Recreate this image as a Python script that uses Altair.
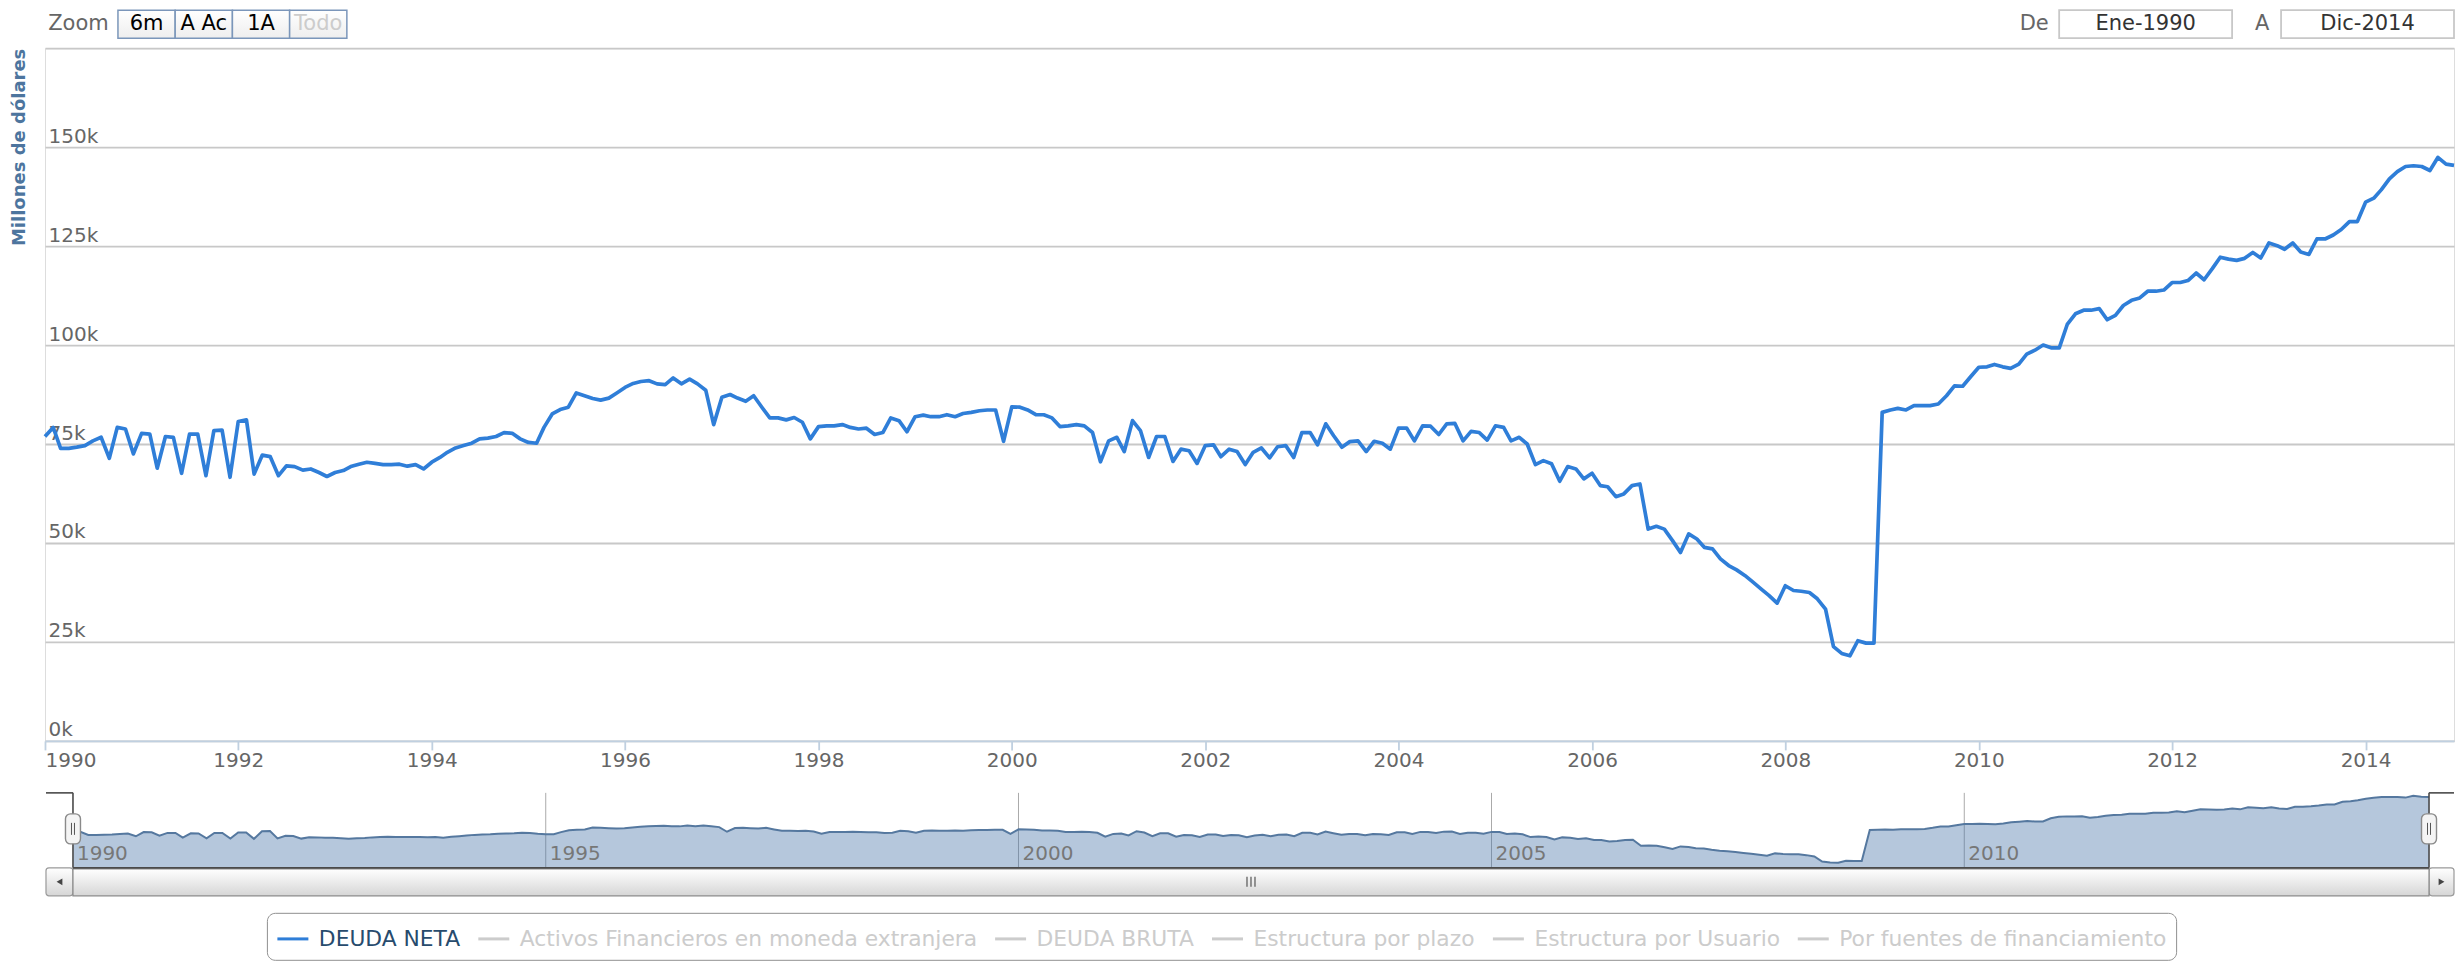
import altair as alt
import pandas as pd

# ---------------- data ----------------
# DEUDA NETA, monthly from Jan-1990 to Dec-2014, thousands of millions of dollars (k)
deuda_1990 = [76.9, 79.2, 73.9, 73.9, 74.2, 74.6, 75.8, 76.7, 71.4, 79.2, 78.8, 72.5]
deuda_1991 = [77.7, 77.5, 68.9, 76.9, 76.7, 67.6, 77.5, 77.5, 67.0, 78.4, 78.5, 66.6]
deuda_1992 = [80.7, 81.1, 67.4, 72.2, 71.8, 67.0, 69.5, 69.3, 68.4, 68.7, 67.8, 66.8]
deuda_1993 = [67.8, 68.3, 69.3, 69.9, 70.4, 70.1, 69.8, 69.8, 69.9, 69.4, 69.8, 68.7]
deuda_1994 = [70.4, 71.6, 72.9, 74.0, 74.6, 75.2, 76.3, 76.5, 76.9, 77.9, 77.7, 76.3]
deuda_1995 = [75.4, 75.2, 79.2, 82.6, 83.7, 84.3, 87.9, 87.2, 86.5, 86.1, 86.6, 87.9]
deuda_1996 = [89.3, 90.3, 90.8, 91.0, 90.2, 90.0, 91.7, 90.2, 91.4, 90.2, 88.6, 79.9]
deuda_1997 = [86.8, 87.5, 86.6, 85.8, 87.2, 84.3, 81.6, 81.6, 81.1, 81.7, 80.5, 76.3]
deuda_1998 = [79.4, 79.6, 79.6, 79.9, 79.2, 78.8, 79.0, 77.4, 77.9, 81.6, 80.9, 78.1]
deuda_1999 = [81.9, 82.3, 81.9, 81.9, 82.4, 81.9, 82.7, 83.0, 83.4, 83.6, 83.6, 75.7]
deuda_2000 = [84.4, 84.3, 83.6, 82.4, 82.4, 81.6, 79.4, 79.6, 79.9, 79.6, 77.9, 70.5]
deuda_2001 = [75.8, 76.7, 73.1, 80.9, 78.4, 71.6, 76.9, 76.9, 70.6, 73.7, 73.3, 70.1]
deuda_2002 = [74.6, 74.8, 71.8, 73.7, 73.1, 69.8, 72.9, 74.0, 71.5, 74.3, 74.6, 71.6]
deuda_2003 = [77.9, 77.9, 74.8, 80.1, 77.1, 74.2, 75.6, 75.8, 73.1, 75.7, 75.2, 73.7]
deuda_2004 = [79.0, 79.0, 75.8, 79.6, 79.5, 77.4, 80.1, 80.2, 75.8, 78.2, 77.9, 76.0]
deuda_2005 = [79.6, 79.2, 75.8, 76.7, 75.0, 69.8, 70.8, 70.0, 65.6, 69.3, 68.7, 66.2]
deuda_2006 = [67.6, 64.5, 64.2, 61.7, 62.4, 64.5, 64.9, 53.5, 54.2, 53.5, 50.6, 47.6]
deuda_2007 = [52.3, 51.0, 48.9, 48.5, 46.0, 44.3, 43.2, 41.8, 40.1, 38.4, 36.7, 34.8]
deuda_2008 = [39.2, 38.0, 37.8, 37.5, 35.9, 33.3, 23.8, 22.1, 21.5, 25.3, 24.7, 24.7]
deuda_2009 = [83.0, 83.6, 84.0, 83.6, 84.7, 84.7, 84.7, 85.1, 87.2, 89.7, 89.6, 92.0]
deuda_2010 = [94.4, 94.5, 95.1, 94.5, 94.1, 95.2, 97.7, 98.7, 100.0, 99.3, 99.3, 105.2]
deuda_2011 = [107.9, 108.8, 108.8, 109.2, 106.4, 107.5, 110.0, 111.3, 111.9, 113.6, 113.6, 113.9]
deuda_2012 = [115.8, 115.8, 116.3, 118.2, 116.5, 119.3, 122.2, 121.7, 121.4, 121.9, 123.4, 122.0]
deuda_2013 = [125.8, 125.1, 124.2, 125.8, 123.5, 122.9, 126.8, 126.8, 127.8, 129.2, 131.2, 131.2]
deuda_2014 = [136.1, 137.1, 139.2, 142.0, 143.8, 145.1, 145.3, 145.1, 144.1, 147.4, 145.7, 145.4]

series_names = ["DEUDA NETA", "Activos Financieros en moneda extranjera", "DEUDA BRUTA",
                "Estructura por plazo", "Estructura por Usuario", "Por fuentes de financiamiento"]
series_colors = ["#2f7ed8", "#cccccc", "#cccccc", "#cccccc", "#cccccc", "#cccccc"]

y_ticks_k = [0, 25, 50, 75, 100, 125, 150, 175]
x_tick_years = list(range(1990, 2015, 2))
nav_label_years = [1990, 1995, 2000, 2005, 2010]
nav_grid_years = [1995, 2000, 2005, 2010]
zoom_buttons = ["6m", "A Ac", "1A", "Todo"]
range_from = "Ene-1990"
range_to = "Dic-2014"
y_title = "Millones de dólares"

# ---------------- tables ----------------
valores_k = (deuda_1990 + deuda_1991 + deuda_1992 + deuda_1993 + deuda_1994 + deuda_1995 +
             deuda_1996 + deuda_1997 + deuda_1998 + deuda_1999 + deuda_2000 + deuda_2001 +
             deuda_2002 + deuda_2003 + deuda_2004 + deuda_2005 + deuda_2006 + deuda_2007 +
             deuda_2008 + deuda_2009 + deuda_2010 + deuda_2011 + deuda_2012 + deuda_2013 + deuda_2014)
fechas = pd.date_range("1990-01-01", periods=len(valores_k), freq="MS")
df = pd.DataFrame({
    "fecha": [d.strftime("%Y-%m-%dT00:00:00Z") for d in fechas],
    "valor": [v * 1000 for v in valores_k],
    "serie": series_names[0],
})


def ms(y, m=1):
    return int(pd.Timestamp(year=y, month=m, day=1, tz="UTC").value // 10**6)


def iso(y):
    return f"{y}-01-01T00:00:00Z"


t0 = ms(int(fechas[0].year), int(fechas[0].month))
t1 = ms(int(fechas[-1].year), int(fechas[-1].month))

FONT = "DejaVu Sans"
W, H = 2410, 693
NAV_TOP, NAV_BOT = 745, 820
NAV_L, NAV_R = 28, 2385
SB_TOP, SB_BOT = 820, 848

main_x = alt.Scale(type="utc", domain=[t0, t1], nice=False)
main_y = alt.Scale(domain=[0, y_ticks_k[-1] * 1000], nice=False, zero=True)
nav_x = alt.Scale(type="utc", domain=[t0, t1], range=[NAV_L, NAV_R], nice=False)
nav_y = alt.Scale(domain=[12000, 153000], range=[NAV_BOT, NAV_TOP], nice=False, zero=False)

x_axis = alt.Axis(values=[ms(y) for y in x_tick_years], format="%Y", title=None, grid=False,
                  labelFont=FONT, labelFontSize=20, labelColor="#666666", labelPadding=1,
                  domainColor="#C0D0E0", domainWidth=1.8, tickColor="#C0D0E0", tickWidth=1.8,
                  tickSize=9, labelOverlap=False)
y_axis = alt.Axis(values=[v * 1000 for v in y_ticks_k],
                  labelExpr="datum.value >= 175000 ? '' : format(datum.value/1000, 'd') + 'k'",
                  orient="left", labelAlign="left", labelBaseline="alphabetic", labelPadding=-3,
                  labelOffset=-5, ticks=False, tickSize=0, domain=False, grid=True,
                  gridColor="#c8c8c8", gridWidth=1.8, labelFont=FONT, labelFontSize=20,
                  labelColor="#666666", title=y_title, titleFont=FONT, titleFontSize=18,
                  titleFontWeight="bold", titleColor="#4d759e", titleAngle=270,
                  titleAlign="right", titleBaseline="middle", titleX=-25, titleY=0)

legend = alt.Legend(orient="none", legendX=222, legendY=865, direction="horizontal", columns=6,
                    title=None, symbolType="stroke", symbolSize=961, symbolStrokeWidth=3,
                    labelFont=FONT, labelFontSize=21.8, labelOffset=9, columnPadding=11,
                    padding=9, strokeColor="#909090", cornerRadius=8, fillColor="white",
                    labelLimit=1000,
                    labelColor=alt.ExprRef("datum.value === 'DEUDA NETA' ? '#274b6d' : '#cccccc'"))

main = alt.Chart(df).mark_line(strokeWidth=3.7, strokeJoin="round").encode(
    x=alt.X("fecha:T", scale=main_x, axis=x_axis),
    y=alt.Y("valor:Q", scale=main_y, axis=y_axis),
    color=alt.Color("serie:N", scale=alt.Scale(domain=series_names, range=series_colors), legend=legend),
)

# ---------------- navigator ----------------
nav_grid = alt.Chart(pd.DataFrame({"fecha": [iso(y) for y in nav_grid_years]})).mark_rule(
    color="#aaaaaa", strokeWidth=1).encode(
    x=alt.X("fecha:T", scale=nav_x, axis=None), y=alt.value(NAV_TOP), y2=alt.value(NAV_BOT))

nav_area = alt.Chart(df).mark_area(
    color="#4572A7", fillOpacity=0.4,
    line={"color": "#55789f", "strokeWidth": 2}).encode(
    x=alt.X("fecha:T", scale=nav_x, axis=None),
    y=alt.Y("valor:Q", scale=nav_y, axis=None),
    y2=alt.datum(12000))

nav_lbl = alt.Chart(pd.DataFrame({"fecha": [iso(y) for y in nav_label_years],
                                  "txt": [str(y) for y in nav_label_years]})).mark_text(
    align="left", baseline="middle", dx=4, font=FONT, fontSize=20, color="#777777").encode(
    x=alt.X("fecha:T", scale=nav_x, axis=None), y=alt.value(806), text="txt:N")


def rect_layer(d, **mk):
    return alt.Chart(pd.DataFrame(d)).mark_rect(**mk).encode(
        x=alt.X("x1:Q", scale=None), x2="x2:Q", y=alt.Y("y1:Q", scale=None), y2="y2:Q")


def rule_layer(d, **mk):
    return alt.Chart(pd.DataFrame(d)).mark_rule(**mk).encode(
        x=alt.X("x1:Q", scale=None), x2="x2:Q", y=alt.Y("y1:Q", scale=None), y2="y2:Q")


grad = alt.Gradient(gradient="linear",
                    stops=[alt.GradientStop(color="#ffffff", offset=0),
                           alt.GradientStop(color="#d6d6d6", offset=1)],
                    x1=0, x2=0, y1=0, y2=1)
grad_btn = alt.Gradient(gradient="linear",
                        stops=[alt.GradientStop(color="#ffffff", offset=0),
                               alt.GradientStop(color="#eeeeee", offset=1)],
                        x1=0, x2=0, y1=0, y2=1)

scroll_btns = rect_layer({"x1": [1, NAV_R], "x2": [NAV_L, W], "y1": [SB_TOP, SB_TOP], "y2": [SB_BOT, SB_BOT]},
                         fill=grad, stroke="#999999", strokeWidth=1.2, cornerRadius=3)
scroll_bar = rect_layer({"x1": [NAV_L], "x2": [NAV_R], "y1": [SB_TOP + 1], "y2": [SB_BOT]},
                        fill=grad, stroke="#8a8a8a", strokeWidth=1.2)
outline = rule_layer({"x1": [1, NAV_L, NAV_L, NAV_R, NAV_R],
                      "x2": [NAV_L, NAV_L, NAV_R, NAV_R, W],
                      "y1": [NAV_TOP, NAV_TOP, NAV_BOT, NAV_TOP, NAV_TOP],
                      "y2": [NAV_TOP, NAV_BOT, NAV_BOT, NAV_BOT, NAV_TOP]},
                     color="#4a4a4a", strokeWidth=1.6)
mid = (NAV_L + NAV_R) / 2
grip = rule_layer({"x1": [mid - 4, mid, mid + 4], "x2": [mid - 4, mid, mid + 4],
                   "y1": [829, 829, 829], "y2": [839, 839, 839]}, color="#555555", strokeWidth=1.2)
arrows = alt.Chart(pd.DataFrame({"x": [14.5, 2397.5], "y": [834, 834],
                                 "shape": ["triangle-left", "triangle-right"]})).mark_point(
    filled=True, color="#444444", size=45, opacity=1).encode(
    x=alt.X("x:Q", scale=None), y=alt.Y("y:Q", scale=None), shape=alt.Shape("shape:N", scale=None))
handles = rect_layer({"x1": [NAV_L - 7.5, NAV_R - 7.5], "x2": [NAV_L + 7.5, NAV_R + 7.5],
                      "y1": [766, 766], "y2": [796, 796]},
                     fill="#f4f4f4", stroke="#8a8a8a", strokeWidth=1.4, cornerRadius=5)
handle_lines = rule_layer({"x1": [NAV_L - 1.5, NAV_L + 1.5, NAV_R - 1.5, NAV_R + 1.5],
                           "x2": [NAV_L - 1.5, NAV_L + 1.5, NAV_R - 1.5, NAV_R + 1.5],
                           "y1": [775] * 4, "y2": [787] * 4}, color="#555555", strokeWidth=1)

# ---------------- range selector ----------------
BTN_T, BTN_B = -38, -10
btn_x0, btn_w = 73, 57.25
btn_rects = rect_layer({"x1": [btn_x0 + i * btn_w for i in range(len(zoom_buttons))],
                        "x2": [btn_x0 + (i + 1) * btn_w for i in range(len(zoom_buttons))],
                        "y1": [BTN_T] * len(zoom_buttons), "y2": [BTN_B] * len(zoom_buttons)},
                       fill=grad_btn, stroke="#7b96ba", strokeWidth=1.5)
input_rects = rect_layer({"x1": [2015, 2237], "x2": [2188, W], "y1": [BTN_T, BTN_T], "y2": [BTN_B, BTN_B]},
                         fill="white", stroke="#c8c8c8", strokeWidth=1.8)
texts = (["Zoom"] + zoom_buttons + ["De", range_from, "A", range_to])
text_x = ([33.5] + [btn_x0 + (i + 0.5) * btn_w for i in range(len(zoom_buttons))] +
          [1990, 2101.5, 2218, 2323.5])
text_col = (["#666666"] + ["#000000"] * (len(zoom_buttons) - 1) + ["#cccccc"] +
            ["#666666", "#333333", "#666666", "#333333"])
ui_text = alt.Chart(pd.DataFrame({"txt": texts, "x": text_x, "y": [-24] * len(texts), "col": text_col})).mark_text(
    font=FONT, fontSize=21, align="center", baseline="middle").encode(
    x=alt.X("x:Q", scale=None), y=alt.Y("y:Q", scale=None), text="txt:N",
    color=alt.Color("col:N", scale=None))

chart = alt.layer(
    nav_grid, nav_area, nav_lbl, scroll_btns, scroll_bar, outline, grip, arrows,
    handles, handle_lines, btn_rects, input_rects, ui_text, main,
).resolve_scale(
    x="independent", y="independent", color="independent", shape="independent"
).properties(
    width=W, height=H, padding={"left": 3, "top": 1, "right": 0, "bottom": 0}
).configure_view(stroke=None).configure(font=FONT, background="white")

chart.save("out.html", embed_options={"renderer": "svg", "actions": False})
